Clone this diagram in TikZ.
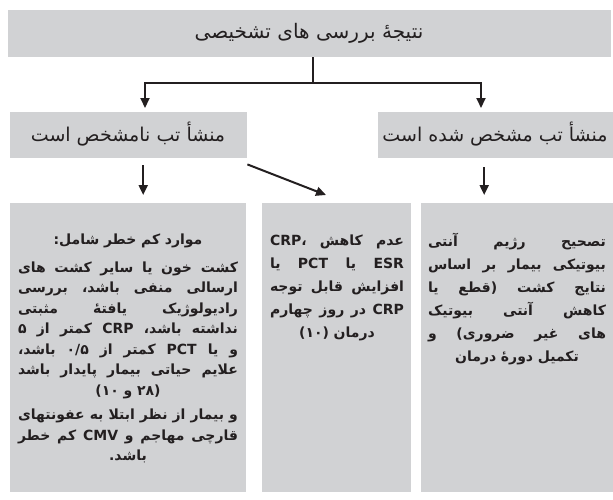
\documentclass[tikz,border=0pt]{standalone}
\usepackage{fontspec}
\newfontfamily\farsi[Script=Arabic]{DejaVu Sans}
\TeXXeTstate=1
\usetikzlibrary{arrows.meta}
\definecolor{boxgray}{HTML}{D1D2D4}
\definecolor{inkdark}{HTML}{231F20}
% one right-to-left line, stretched to \rowwidth or left at its own width
\def\rowwidth{100pt}
\newcommand{\fullline}[1]{\leavevmode{\spaceskip=0.3em plus 1fill\hbox to \rowwidth{\beginR #1\endR}}}
\newcommand{\rtline}[1]{\beginR #1\endR}
\begin{document}
\begin{tikzpicture}[x=1pt,y=-1pt,
  graybox/.style = {fill=boxgray,draw=none,inner sep=0pt,anchor=north west},
  headtext/.style = {font=\farsi\fontsize{19}{22}\selectfont,text=inkdark},
  bodytext/.style = {font=\farsi\bfseries\fontsize{14}{20.5}\selectfont,
                     text=inkdark,align=center,inner sep=0pt,anchor=north},
  link/.style = {line width=2pt,draw=inkdark},
  arr/.style = {link,-{Triangle[length=10pt,width=9pt]}}]
    \useasboundingbox (0,0) rectangle (613,499);

    % boxes
    \node[graybox,minimum width=603pt,minimum height=47pt] (result) at (8,10) {};
    \node[graybox,minimum width=237pt,minimum height=46pt] (unknown) at (10,112) {};
    \node[graybox,minimum width=235pt,minimum height=46pt] (known) at (378,112) {};
    \node[graybox,minimum width=236pt,minimum height=289pt] (lowleft) at (10,203) {};
    \node[graybox,minimum width=149pt,minimum height=289pt] (lowmid) at (262,203) {};
    \node[graybox,minimum width=192pt,minimum height=289pt] (lowright) at (421,203) {};

    % headings
    \node[headtext,font=\farsi\fontsize{20}{22}\selectfont] (resultlabel) at (309,33) {\rtline{نتیجهٔ بررسی های تشخیصی}};
    \node[headtext] (unknownlabel) at (128,134) {\rtline{منشأ تب نامشخص است}};
    \node[headtext] (knownlabel) at (495,134) {\rtline{منشأ تب مشخص شده است}};

    % texts of the lower boxes
    \node[bodytext,text width=220pt] (lowlefttext) at (128,234) {%
        \def\rowwidth{220pt}%
        \rtline{موارد کم خطر شامل:}\\[7pt]
        \fullline{کشت خون یا سایر کشت های}\\
        \fullline{ارسالی منفی باشد، بررسی}\\
        \fullline{رادیولوژیک یافتهٔ مثبتی}\\
        \fullline{نداشته باشد، CRP کمتر از ۵}\\
        \fullline{و یا PCT کمتر از ۰/۵ باشد،}\\
        \fullline{علایم حیاتی بیمار پایدار باشد}\\
        \rtline{(۲۸ و ۱۰)}\\[4pt]
        \fullline{و بیمار از نظر ابتلا به عفونتهای}\\
        \fullline{قارچی مهاجم و CMV کم خطر}\\
        \rtline{باشد.}};
    \node[bodytext,text width=134pt,font=\farsi\bfseries\fontsize{14}{23}\selectfont]
        (lowmidtext) at (337,235) {%
        \def\rowwidth{134pt}%
        \fullline{عدم کاهش CRP،}\\
        \fullline{ESR یا PCT یا}\\
        \fullline{افزایش قابل توجه}\\
        \fullline{CRP در روز چهارم}\\
        \rtline{درمان (۱۰)}};
    \node[bodytext,text width=178pt,font=\farsi\bfseries\fontsize{14}{23}\selectfont]
        (lowrighttext) at (517,233) {%
        \def\rowwidth{178pt}%
        \fullline{تصحیح رژیم آنتی}\\
        \fullline{بیوتیکی بیمار بر اساس}\\
        \fullline{نتایج کشت (قطع یا}\\
        \fullline{کاهش آنتی بیوتیک}\\
        \fullline{های غیر ضروری) و}\\
        \rtline{تکمیل دورهٔ درمان}};

    % connectors
    \coordinate (split) at (313,83);
    \coordinate (leftin) at (145,112);
    \coordinate (rightin) at (481,112);
    \coordinate (recheck) at (326,195);
    \draw[link] (result.south -| split) -- (split);
    \draw[arr,shorten >=4pt] (split) -| (leftin);
    \draw[arr,shorten >=4pt] (split) -| (rightin);
    \draw[arr,shorten <=7pt,shorten >=8pt] ([xshift=14.5pt]unknown.south) -- ([xshift=14.5pt]unknown.south |- lowleft.north);
    \draw[arr] ([yshift=-6pt]unknown.south east) -- (recheck);
    \draw[arr,shorten <=9pt,shorten >=8pt] ([xshift=-11.5pt]known.south) -- ([xshift=-11.5pt]known.south |- lowright.north);
\end{tikzpicture}
\end{document}
